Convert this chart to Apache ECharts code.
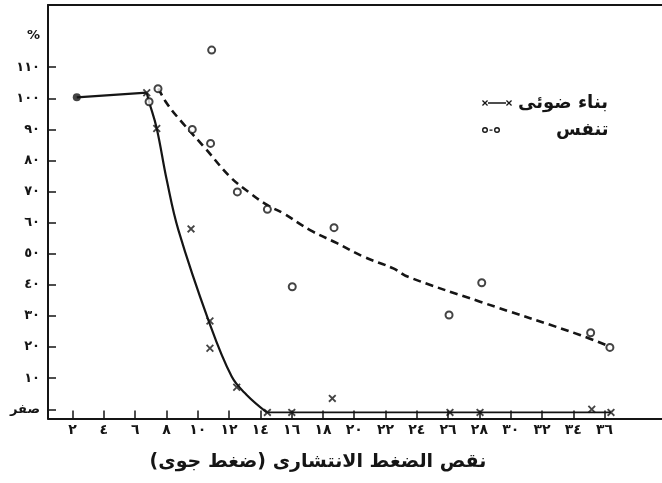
<!DOCTYPE html>
<html>
<head>
<meta charset="utf-8">
<script src="https://cdn.jsdelivr.net/npm/echarts@6/dist/echarts.min.js"></script>
<style>html,body{margin:0;padding:0;background:#fff}#c{width:662px;height:483px}</style>
</head>
<body>
<div id="c"></div>
<script>
// ---- data ----
const xTickValues = [2,4,6,8,10,12,14,16,18,20,22,24,26,28,30,32,34,36];
const xTickLabels = ['٢','٤','٦','٨','١٠','١٢','١٤','١٦','١٨','٢٠','٢٢','٢٤','٢٦','٢٨','٣٠','٣٢','٣٤','٣٦'];
const yTickValues = [0,10,20,30,40,50,60,70,80,90,100,110];
const yTickLabels = ['صفر','١٠','٢٠','٣٠','٤٠','٥٠','٦٠','٧٠','٨٠','٩٠','١٠٠','١١٠'];
const yUnitValue = 120;
const yUnitLabel = '%';

const photoName = 'بناء ضوئى';
const respName = 'تنفس';
const xAxisTitle = 'نقص الضغط الانتشارى (ضغط جوى)';

// photosynthesis measured points (x markers)
const photoPtsX = [2.27, 6.74, 7.38, 9.57, 10.78, 10.78, 12.49, 14.45, 16.01, 18.60, 26.12, 28.04, 35.18, 36.41];
const photoPtsY = [100.3, 101.8, 90.3, 58.0, 28.4, 19.6, 7.1, -1, -1, 3.5, -1, -1, 0, -1];
// photosynthesis drawn curve
const photoFlatX = [2.27, 6.74];
const photoFlatY = [100.3, 101.8];
const photoCurveX = [6.74, 6.89, 7.38, 8.02, 8.76, 10.68, 12.17, 13.13, 14.41];
const photoCurveY = [101.8, 98.9, 90.3, 73.7, 57.7, 28.7, 10.5, 4.6, -1];
const photoTailX = [14.41, 36.41];
const photoTailY = [-1, -1];

// respiration measured points (o markers)
const respPtsX = [6.89, 7.46, 10.89, 9.65, 10.82, 12.53, 14.45, 18.71, 16.04, 26.06, 28.15, 35.11, 36.34];
const respPtsY = [98.9, 103.1, 115.5, 90.0, 85.5, 69.9, 64.3, 58.4, 39.4, 30.3, 40.7, 24.6, 19.9];
// respiration drawn (dashed) curve
const respCurveX = [7.48, 8.02, 8.87, 10.47, 12.06, 13.34, 14.43, 15.47, 17.18, 18.90, 20.58, 22.50, 23.44, 28.04, 34.43, 36.35];
const respCurveY = [103.2, 98.4, 93.0, 84.0, 74.8, 69.5, 65.7, 63.0, 57.6, 53.4, 49.1, 45.3, 42.6, 34.6, 23.9, 20.1];

// ---- build ----
const zip = (xs, ys) => xs.map((x, i) => [x, ys[i]]);
const RLM = '\u200F';
const ink = '#151515';
const font = 'DejaVu Sans';
const crossPath = 'path://M0,1.6 L1.6,0 L5,3.4 L8.4,0 L10,1.6 L6.6,5 L10,8.4 L8.4,10 L5,6.6 L1.6,10 L0,8.4 L3.4,5 Z';
const photoIcon = 'path://M0 1.9 L0.9 1 L6 6.1 L5.1 7 Z M0 6.1 L5.1 1 L6 1.9 L0.9 7 Z M6 3.3 L24 3.3 L24 4.7 L6 4.7 Z M24 1.9 L24.9 1 L30 6.1 L29.1 7 Z M24 6.1 L29.1 1 L30 1.9 L24.9 7 Z';
const respIcon = 'path://M0 3.5 A3 3 0 1 1 6 3.5 A3 3 0 1 1 0 3.5 Z M1.4 3.5 A1.6 1.6 0 1 0 4.6 3.5 A1.6 1.6 0 1 0 1.4 3.5 Z M7.5 2.9 L10.5 2.9 L10.5 4.3 L7.5 4.3 Z M12 3.5 A3 3 0 1 1 18 3.5 A3 3 0 1 1 12 3.5 Z M13.4 3.5 A1.6 1.6 0 1 0 16.6 3.5 A1.6 1.6 0 1 0 13.4 3.5 Z';

const photoPoints = zip(photoPtsX, photoPtsY).map((p, i) => i === 0
  ? { value: p, symbol: 'circle', symbolSize: 8, itemStyle: { color: ink } }
  : { value: p });

const chart = echarts.init(document.getElementById('c'), null, { renderer: 'canvas' });
chart.setOption({
  animation: false,
  backgroundColor: '#fff',
  textStyle: { fontFamily: font },
  grid: { left: 48, right: 0, top: 5, bottom: 64.4 },
  legend: [
    {
      data: [{ name: photoName, icon: photoIcon }],
      left: 477, top: 89, itemWidth: 30, itemHeight: 6,
      selectedMode: false, itemStyle: { color: ink },
      textStyle: { fontFamily: font, fontSize: 18, fontWeight: 'bold', color: ink, padding: [0, 0, 0, 1] }
    },
    {
      data: [{ name: respName, icon: respIcon }],
      left: 477, top: 116, itemWidth: 18, itemHeight: 6,
      selectedMode: false, itemStyle: { color: ink },
      textStyle: { fontFamily: font, fontSize: 18, fontWeight: 'bold', color: ink, padding: [0, 0, 0, 51] }
    }
  ],
  xAxis: [
    {
      type: 'value', position: 'bottom', min: 0.43, max: 39.67,
      axisLine: { onZero: false, lineStyle: { color: ink, width: 2 } },
      axisTick: { inside: true, length: 8, customValues: xTickValues, lineStyle: { color: ink, width: 1.5 } },
      axisLabel: {
        customValues: xTickValues, margin: 5, fontSize: 14, fontWeight: 'bold', color: ink, fontFamily: font,
        formatter: v => { const i = xTickValues.indexOf(v); return i >= 0 ? xTickLabels[i] : ''; }
      },
      splitLine: { show: false },
      name: RLM + xAxisTitle + RLM, nameLocation: 'middle', nameGap: 34,
      nameTextStyle: { fontSize: 19, fontWeight: 'bold', color: ink, fontFamily: font, padding: [0, 74, 0, 0] }
    },
    {
      type: 'value', position: 'top', min: 0.43, max: 39.67,
      axisLine: { onZero: false, lineStyle: { color: ink, width: 2 } },
      axisTick: { show: false }, axisLabel: { show: false }, splitLine: { show: false }
    }
  ],
  yAxis: {
    type: 'value', min: -3, max: 130,
    axisLine: { show: true, onZero: false, lineStyle: { color: ink, width: 2 } },
    axisTick: { show: true, inside: true, length: 8, customValues: yTickValues, lineStyle: { color: ink, width: 1.5 } },
    axisLabel: {
      customValues: yTickValues.concat([yUnitValue]), margin: 8, fontSize: 13, fontWeight: 'bold', color: ink, fontFamily: font,
      formatter: v => { if (v === yUnitValue) return yUnitLabel; const i = yTickValues.indexOf(v); return i >= 0 ? yTickLabels[i] : ''; }
    },
    splitLine: { show: false }
  },
  series: [
    { name: photoName, type: 'line', data: zip(photoFlatX, photoFlatY), symbol: 'none', color: ink, lineStyle: { color: ink, width: 2.2 }, z: 3 },
    { name: photoName, type: 'line', data: zip(photoCurveX, photoCurveY), symbol: 'none', smooth: 0.4, color: ink, lineStyle: { color: ink, width: 2.2 }, z: 3 },
    { name: photoName, type: 'line', data: zip(photoTailX, photoTailY), symbol: 'none', color: ink, lineStyle: { color: ink, width: 1.8 }, z: 3 },
    { name: photoName, type: 'scatter', data: photoPoints, symbol: crossPath, symbolSize: 8, color: ink, itemStyle: { color: ink }, z: 4 },
    { name: respName, type: 'line', data: zip(respCurveX, respCurveY), symbol: 'none', smooth: 0.4, color: ink, lineStyle: { color: ink, width: 2.6, type: [8, 5] }, z: 3 },
    { name: respName, type: 'scatter', data: zip(respPtsX, respPtsY), symbol: 'circle', symbolSize: 7, color: ink, itemStyle: { color: '#fff', borderColor: ink, borderWidth: 2 }, z: 4 }
  ]
});
</script>
</body>
</html>
